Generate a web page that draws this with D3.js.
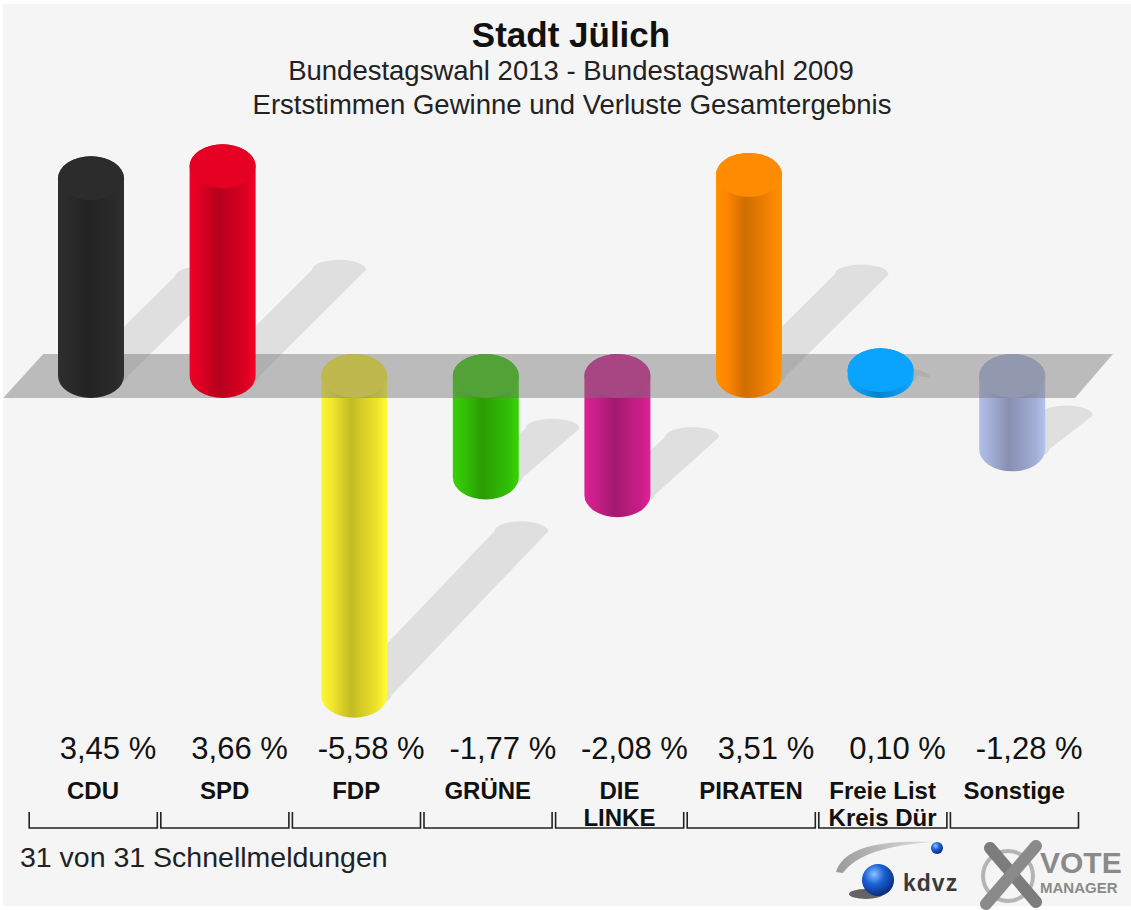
<!DOCTYPE html>
<html>
<head>
<meta charset="utf-8">
<script src="https://cdn.jsdelivr.net/npm/d3@7"></script>
<style>
  body { margin: 0; background: #fff; }
  svg { display: block; }
</style>
</head>
<body>
<svg id="chart" width="1131" height="910"></svg>
<script>
// data
var parties = ["CDU", "SPD", "FDP", "GRÜNE", "DIE LINKE", "PIRATEN", "Freie List Kreis Dür", "Sonstige"];
var partyLabels = [["CDU"], ["SPD"], ["FDP"], ["GRÜNE"], ["DIE", "LINKE"], ["PIRATEN"], ["Freie List", "Kreis Dür"], ["Sonstige"]];
var changes = [3.45, 3.66, -5.58, -1.77, -2.08, 3.51, 0.10, -1.28];
var partyColors = ["#2a2a2a", "#dc0022", "#efe42c", "#33bf05", "#c81e88", "#fb8500", "#0a9cf2", "#a3aed6"];

var titleText = "Stadt Jülich",
    subtitle1 = "Bundestagswahl 2013 - Bundestagswahl 2009",
    subtitle2 = "Erststimmen Gewinne und Verluste Gesamtergebnis",
    footerText = "31 von 31 Schnellmeldungen";


var svg = d3.select("#chart");
var defs = svg.append("defs");
var font = "'Liberation Sans', Arial, sans-serif";

var deLocale = d3.formatLocale({decimal: ",", thousands: ".", grouping: [3], currency: ["", " €"], minus: "-"});
var fmt = deLocale.format(".2f");

// background
svg.append("rect")
  .attr("x", 3).attr("y", 4)
  .attr("width", 1128).attr("height", 902)
  .style("fill", "#f5f5f5");

// scales
var x = d3.scaleBand().domain(parties).range([25.2, 1078]);
var y = d3.scaleLinear().domain([-6, 4]).range([719.8, 146.8]);

var rx = 33, ry = 22;
var zeroY = y(0);

function cx(p) { return x(p) + x.bandwidth() / 2; }


// titles
svg.append("text")
  .attr("x", 571).attr("y", 47)
  .attr("text-anchor", "middle")
  .style("font-family", font).style("font-weight", "bold").style("font-size", "35px")
  .style("fill", "#111")
  .text(titleText);

svg.append("text")
  .attr("x", 571).attr("y", 80)
  .attr("text-anchor", "middle")
  .style("font-family", font).style("font-size", "27.5px")
  .style("fill", "#222")
  .text(subtitle1);

svg.append("text")
  .attr("x", 572).attr("y", 114)
  .attr("text-anchor", "middle")
  .style("font-family", font).style("font-size", "27.5px")
  .style("fill", "#222")
  .text(subtitle2);


// gradients for the cylinders
parties.forEach(function(p, i) {
  var c = d3.color(partyColors[i]);
  var g = defs.append("linearGradient")
    .attr("id", "grad" + i)
    .attr("x1", "0").attr("x2", "1").attr("y1", "0").attr("y2", "0");
  g.append("stop").attr("offset", "0").attr("stop-color", c.brighter(0.25));
  g.append("stop").attr("offset", "0.18").attr("stop-color", c);
  g.append("stop").attr("offset", "0.45").attr("stop-color", c.darker(0.55));
  g.append("stop").attr("offset", "0.85").attr("stop-color", c);
  g.append("stop").attr("offset", "1").attr("stop-color", c.brighter(0.3));
});


var bars = parties.map(function(p, i) {
  var v = changes[i];
  var yTop = Math.min(y(v), zeroY),
      yBot = Math.max(y(v), zeroY);
  return {p: p, i: i, v: v, cx: cx(p), yTop: yTop, yBot: yBot, h: yBot - yTop};
});


// shadows
var shadowLayer = svg.append("g");
bars.forEach(function(b) {
  var sw = 27;
  var bx = b.cx + 10, by = b.yBot;
  var tx = b.cx + 20 + 0.46 * b.h,
      ty = b.yBot - (5 + 0.53 * b.h) + 10;
  var d = "M" + (bx - sw) + "," + by +
    " L" + (tx - sw) + "," + ty +
    " A" + sw + "," + 10 + " 0 0 1 " + (tx + sw) + "," + ty +
    " L" + (bx + sw) + "," + by +
    " A" + sw + "," + 10 + " 0 0 1 " + (bx - sw) + "," + by + " Z";
  shadowLayer.append("path")
    .attr("d", d)
    .style("fill", "rgba(0,0,0,0.085)");
});


function cylinderPath(b) {
  return "M" + (b.cx - rx) + "," + b.yTop +
    " L" + (b.cx - rx) + "," + b.yBot +
    " A" + rx + "," + ry + " 0 0 0 " + (b.cx + rx) + "," + b.yBot +
    " L" + (b.cx + rx) + "," + b.yTop +
    " A" + rx + "," + ry + " 0 0 0 " + (b.cx - rx) + "," + b.yTop + " Z";
}

function drawBar(layer, b) {
  var c = d3.color(partyColors[b.i]);
  layer.append("path")
    .attr("d", cylinderPath(b))
    .style("fill", "url(#grad" + b.i + ")");
  layer.append("ellipse")
    .attr("cx", b.cx).attr("cy", b.yTop)
    .attr("rx", rx).attr("ry", ry)
    .style("fill", c.brighter(0.12));
}

// negative bars sit below the zero plane
var negLayer = svg.append("g");
bars.filter(function(b) { return b.v < 0; }).forEach(function(b) { drawBar(negLayer, b); });

// zero plane
var x0 = x.range()[0], x1 = x.range()[1];
svg.append("path")
  .attr("d", "M" + (x0 - 22) + "," + (zeroY + ry) +
    " L" + (x0 + 18) + "," + (zeroY - ry) +
    " L" + (x1 + 35) + "," + (zeroY - ry) +
    " L" + (x1 - 3) + "," + (zeroY + ry) + " Z")
  .style("fill", "rgba(118,118,118,0.45)");

var posLayer = svg.append("g");
bars.filter(function(b) { return b.v >= 0; }).forEach(function(b) { drawBar(posLayer, b); });


// value labels
svg.append("g").selectAll("text")
  .data(bars)
  .enter().append("text")
  .attr("x", function(b) { return b.cx + 17; })
  .attr("y", 759)
  .attr("text-anchor", "middle")
  .style("font-family", font).style("font-size", "31px")
  .style("fill", "#111")
  .text(function(b) { return fmt(b.v) + " %"; });

// party names
var nameG = svg.append("g").selectAll("text")
  .data(bars)
  .enter().append("text")
  .attr("text-anchor", "middle")
  .style("font-family", font).style("font-weight", "bold").style("font-size", "24px")
  .style("fill", "#111");

nameG.selectAll("tspan")
  .data(function(b) { return partyLabels[b.i].map(function(t) { return {t: t, cx: b.cx}; }); })
  .enter().append("tspan")
  .attr("x", function(d) { return d.cx + 2; })
  .attr("y", function(d, j) { return 799 + j * 27; })
  .text(function(d) { return d.t; });

// brackets under each category
svg.append("g").selectAll("path")
  .data(parties)
  .enter().append("path")
  .attr("d", function(p) {
    var a = x(p) + 4, e = x(p) + x.bandwidth() + 0.5;
    return "M" + a + ",812 V828 H" + e + " V812";
  })
  .style("fill", "none")
  .style("stroke", "#222")
  .style("stroke-width", 1.6);


// footer
svg.append("text")
  .attr("x", 20).attr("y", 867)
  .style("font-family", font).style("font-size", "28.5px")
  .style("fill", "#222")
  .text(footerText);


// logos
var ballGrad = defs.append("radialGradient").attr("id", "ball")
  .attr("cx", "0.38").attr("cy", "0.32").attr("r", "0.7");
ballGrad.append("stop").attr("offset", "0").attr("stop-color", "#8ec4ff");
ballGrad.append("stop").attr("offset", "0.45").attr("stop-color", "#1a62d6");
ballGrad.append("stop").attr("offset", "1").attr("stop-color", "#0a2a7a");

var swooshGrad = defs.append("linearGradient").attr("id", "swoosh")
  .attr("x1", "0").attr("x2", "1");
swooshGrad.append("stop").attr("offset", "0").attr("stop-color", "#9a9a9a");
swooshGrad.append("stop").attr("offset", "1").attr("stop-color", "#e4e4e4");

var logo = svg.append("g");
logo.append("path")
  .attr("d", "M836,872 Q846,838 936,842 Q862,846 843,873 Z")
  .style("fill", "url(#swoosh)");
logo.append("circle").attr("cx", 937).attr("cy", 848).attr("r", 6).style("fill", "url(#ball)");
logo.append("ellipse").attr("cx", 866).attr("cy", 894).attr("rx", 17).attr("ry", 5)
  .style("fill", "#333").style("opacity", 0.75);
logo.append("circle").attr("cx", 878).attr("cy", 880).attr("r", 16).style("fill", "url(#ball)");
logo.append("text")
  .attr("x", 903).attr("y", 891)
  .style("font-family", font).style("font-weight", "bold").style("font-size", "23px")
  .style("letter-spacing", "1px")
  .style("fill", "#3a3a3a")
  .text("kdvz");

logo.append("circle").attr("cx", 1008).attr("cy", 876).attr("r", 25)
  .style("fill", "none").style("stroke", "#b4b4b4").style("stroke-width", 4);
logo.append("path").attr("d", "M990,848 L1036,902")
  .style("stroke", "#7c7c7c").style("stroke-width", 12).style("stroke-linecap", "round");
logo.append("path").attr("d", "M1036,846 L986,904")
  .style("stroke", "#8a8a8a").style("stroke-width", 12).style("stroke-linecap", "round");
logo.append("text")
  .attr("x", 1040).attr("y", 873)
  .style("font-family", font).style("font-weight", "bold").style("font-size", "30px")
  .style("fill", "#8a8a8a")
  .text("VOTE");
logo.append("text")
  .attr("x", 1040).attr("y", 893)
  .style("font-family", font).style("font-weight", "bold").style("font-size", "15px")
  .style("fill", "#8a8a8a")
  .text("MANAGER");
</script>
</body>
</html>
